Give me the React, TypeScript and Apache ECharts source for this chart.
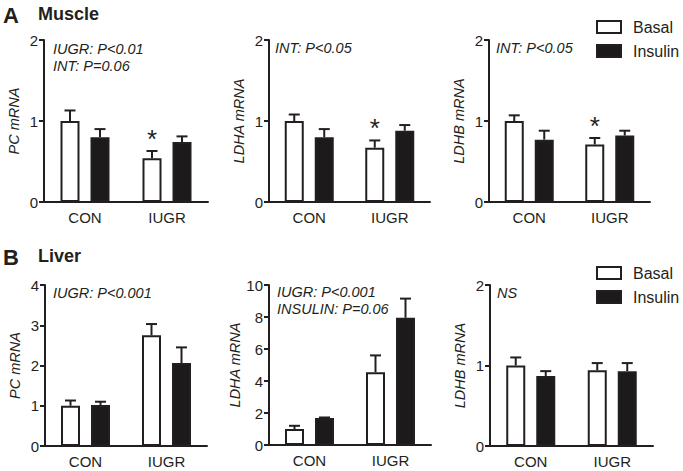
import React, { useEffect, useRef } from "react";
import * as echarts from "echarts";

const categories = ["CON", "IUGR"];

// Muscle
const musclePcBasal = [1.0, 0.54];
const musclePcBasalErr = [0.13, 0.09];
const musclePcInsulin = [0.8, 0.74];
const musclePcInsulinErr = [0.1, 0.07];

const muscleLdhaBasal = [1.0, 0.67];
const muscleLdhaBasalErr = [0.08, 0.09];
const muscleLdhaInsulin = [0.8, 0.88];
const muscleLdhaInsulinErr = [0.1, 0.07];

const muscleLdhbBasal = [1.0, 0.71];
const muscleLdhbBasalErr = [0.07, 0.08];
const muscleLdhbInsulin = [0.77, 0.82];
const muscleLdhbInsulinErr = [0.11, 0.06];

// Liver
const liverPcBasal = [1.0, 2.75];
const liverPcBasalErr = [0.13, 0.28];
const liverPcInsulin = [1.02, 2.06];
const liverPcInsulinErr = [0.08, 0.39];

const liverLdhaBasal = [1.0, 4.55];
const liverLdhaBasalErr = [0.2, 1.05];
const liverLdhaInsulin = [1.68, 7.95];
const liverLdhaInsulinErr = [0.04, 1.2];

const liverLdhbBasal = [1.0, 0.94];
const liverLdhbBasalErr = [0.1, 0.09];
const liverLdhbInsulin = [0.87, 0.93];
const liverLdhbInsulinErr = [0.06, 0.1];

// significance asterisks above basal bars (per category)
const muscleStars = [0, 1];
const liverStars = [0, 0];

const seriesNames = ["Basal", "Insulin"];

const panelData = [
  { name: "PC mRNA", max: 2, interval: 1, basal: musclePcBasal, basalErr: musclePcBasalErr, insulin: musclePcInsulin, insulinErr: musclePcInsulinErr, stars: muscleStars, notes: ["IUGR: P<0.01", "INT: P=0.06"] },
  { name: "LDHA mRNA", max: 2, interval: 1, basal: muscleLdhaBasal, basalErr: muscleLdhaBasalErr, insulin: muscleLdhaInsulin, insulinErr: muscleLdhaInsulinErr, stars: muscleStars, notes: ["INT: P<0.05"] },
  { name: "LDHB mRNA", max: 2, interval: 1, basal: muscleLdhbBasal, basalErr: muscleLdhbBasalErr, insulin: muscleLdhbInsulin, insulinErr: muscleLdhbInsulinErr, stars: muscleStars, notes: ["INT: P<0.05"] },
  { name: "PC mRNA", max: 4, interval: 1, basal: liverPcBasal, basalErr: liverPcBasalErr, insulin: liverPcInsulin, insulinErr: liverPcInsulinErr, stars: liverStars, notes: ["IUGR: P<0.001"] },
  { name: "LDHA mRNA", max: 10, interval: 2, basal: liverLdhaBasal, basalErr: liverLdhaBasalErr, insulin: liverLdhaInsulin, insulinErr: liverLdhaInsulinErr, stars: liverStars, notes: ["IUGR: P<0.001", "INSULIN: P=0.06"] },
  { name: "LDHB mRNA", max: 2, interval: 1, basal: liverLdhbBasal, basalErr: liverLdhbBasalErr, insulin: liverLdhbInsulin, insulinErr: liverLdhbInsulinErr, stars: liverStars, notes: ["NS"] },
];

// layout
const grids = [
  { left: 44, top: 40, width: 164, height: 162 },
  { left: 269, top: 40, width: 161, height: 162 },
  { left: 489, top: 40, width: 161, height: 162 },
  { left: 45, top: 285, width: 162, height: 161 },
  { left: 269, top: 285, width: 162, height: 160 },
  { left: 490, top: 285, width: 163, height: 161 },
];
const notePos = [
  { left: 53, top: 49 },
  { left: 275, top: 48 },
  { left: 496, top: 48 },
  { left: 53, top: 293 },
  { left: 277, top: 292 },
  { left: 497, top: 293 },
];

const INK = "#231f20";
const FONT = "'Liberation Sans', Arial, Helvetica, sans-serif";
const BAR_W = 19;
const BAR_GAP = 9;
const HALF_OFF = (BAR_W + 2 + BAR_GAP) / 2;
const CAP = 11;

export default function App() {
  const ref = useRef<HTMLDivElement>(null);

  useEffect(() => {
    if (!ref.current) return;
    const chart = echarts.init(ref.current, undefined, { renderer: "svg" });

    const xAxis: any[] = [];
    const yAxis: any[] = [];
    const series: any[] = [];
    const graphic: any[] = [];

    panelData.forEach((p, i) => {
      xAxis.push({
        type: "category",
        gridIndex: i,
        data: categories,
        axisLine: { lineStyle: { color: INK, width: 2 } },
        axisTick: { alignWithLabel: true, length: 5, lineStyle: { color: INK, width: 2 } },
        axisLabel: { color: INK, fontSize: 15, fontFamily: FONT, margin: 8 },
      });
      yAxis.push({
        type: "value",
        gridIndex: i,
        min: 0,
        max: p.max,
        interval: p.interval,
        name: p.name,
        nameLocation: "middle",
        nameRotate: 90,
        nameGap: p.max >= 10 ? 27 : 23,
        nameTextStyle: { color: INK, fontSize: 14.5, fontStyle: "italic", fontFamily: FONT },
        axisLine: { show: true, lineStyle: { color: INK, width: 2 } },
        axisTick: { show: true, length: 5, lineStyle: { color: INK, width: 2 } },
        axisLabel: { color: INK, fontSize: 15, fontFamily: FONT, margin: 6 },
        splitLine: { show: false },
      });
      series.push({
        type: "bar",
        name: seriesNames[0],
        xAxisIndex: i,
        yAxisIndex: i,
        data: p.basal,
        barWidth: BAR_W,
        barGap: `${((BAR_GAP + 2) / BAR_W) * 100}%`,
        itemStyle: { color: "#ffffff", borderColor: INK, borderWidth: 2 },
      });
      series.push({
        type: "bar",
        name: seriesNames[1],
        xAxisIndex: i,
        yAxisIndex: i,
        data: p.insulin,
        barWidth: BAR_W,
        itemStyle: { color: "#1c1a1b", borderColor: INK, borderWidth: 2 },
      });
      const errData: number[][] = [];
      p.basal.forEach((v, c) => errData.push([c, v, p.basalErr[c], -1, p.stars[c]]));
      p.insulin.forEach((v, c) => errData.push([c, v, p.insulinErr[c], 1, 0]));
      series.push({
        type: "custom",
        name: "err" + i,
        xAxisIndex: i,
        yAxisIndex: i,
        z: 5,
        data: errData,
        renderItem: (params: any, api: any) => {
          const c = api.value(0);
          const m = api.value(1);
          const e = api.value(2);
          const side = api.value(3);
          const star = api.value(4);
          const p0 = api.coord([c, m]);
          const p1 = api.coord([c, m + e]);
          const x = p0[0] + side * HALF_OFF;
          const children: any[] = [
            { type: "line", shape: { x1: x, y1: p0[1], x2: x, y2: p1[1] }, style: { stroke: INK, lineWidth: 2 } },
            { type: "line", shape: { x1: x - CAP / 2, y1: p1[1], x2: x + CAP / 2, y2: p1[1] }, style: { stroke: INK, lineWidth: 2 } },
          ];
          if (star) {
            children.push({
              type: "text",
              x: x,
              y: p1[1] - 12,
              style: { text: "*", fontSize: 26, fontFamily: FONT, fill: INK, align: "center", verticalAlign: "middle" },
            });
          }
          return { type: "group", children };
        },
      });

      p.notes.forEach((t, k) => {
        graphic.push({
          type: "text",
          left: notePos[i].left,
          top: notePos[i].top - 8 + k * 17,
          style: { text: t, fontSize: 14.5, fontStyle: "italic", fontFamily: FONT, fill: INK },
        });
      });
    });

    graphic.push(
      { type: "text", left: 3, top: 4, style: { text: "A", fontSize: 22, fontWeight: "bold", fontFamily: FONT, fill: INK } },
      { type: "text", left: 38, top: 5, style: { text: "Muscle", fontSize: 18, fontWeight: "bold", fontFamily: FONT, fill: INK } },
      { type: "text", left: 3, top: 246, style: { text: "B", fontSize: 22, fontWeight: "bold", fontFamily: FONT, fill: INK } },
      { type: "text", left: 38, top: 247, style: { text: "Liver", fontSize: 18, fontWeight: "bold", fontFamily: FONT, fill: INK } }
    );

    const legendBase = {
      orient: "vertical",
      left: 596,
      padding: 0,
      itemWidth: 24,
      itemHeight: 12,
      itemGap: 8,
      icon: "rect",
      data: seriesNames,
      selectedMode: false,
      textStyle: { color: INK, fontSize: 16, fontFamily: FONT, padding: [0, 0, 0, 7] },
    };

    chart.setOption({
      animation: false,
      backgroundColor: "#ffffff",
      grid: grids,
      xAxis,
      yAxis,
      series,
      legend: [
        { ...legendBase, top: 19 },
        { ...legendBase, top: 265 },
      ],
      graphic,
    });

    return () => chart.dispose();
  }, []);

  return (
    <div
      ref={ref}
      style={{ position: "fixed", left: 0, top: 0, width: 683, height: 471 }}
    />
  );
}
